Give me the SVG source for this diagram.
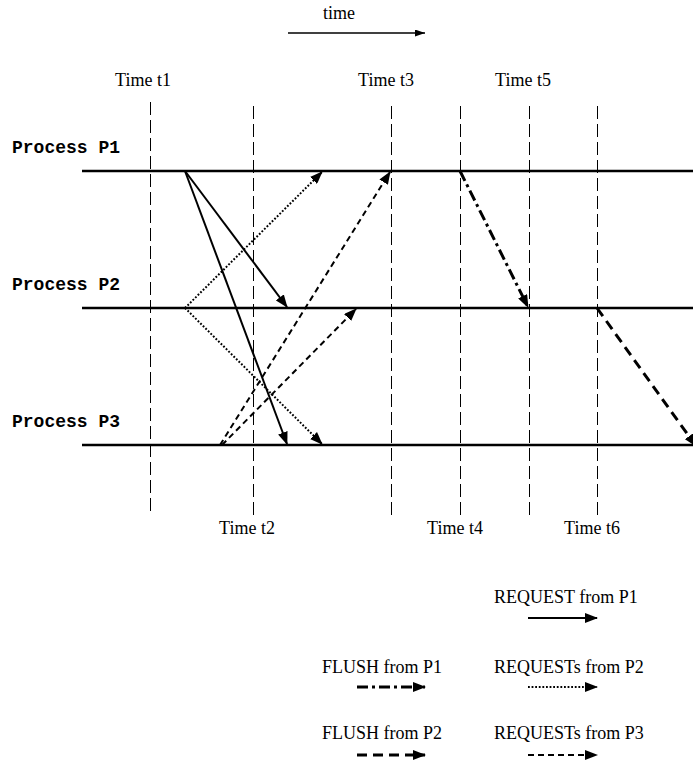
<svg xmlns="http://www.w3.org/2000/svg" width="693" height="763" viewBox="0 0 693 763">
<style>
.serif{font-family:"Liberation Serif","Times New Roman",serif;font-size:18px;fill:#000}
.mono{font-family:"Liberation Mono","Courier New",monospace;font-size:18px;font-weight:bold;fill:#000}
.tl{stroke:#000;stroke-width:2.5;fill:none}
.vd{stroke:#000;stroke-width:1;stroke-dasharray:13 5;fill:none}
.a{stroke:#000;fill:none;marker-end:url(#ah)}
.req1{stroke-width:2}
.req2{stroke-width:2;stroke-dasharray:1.8 1.8}
.req3{stroke-width:2;stroke-dasharray:6 4}
.fl1{stroke-width:3;stroke-dasharray:11 4 3 4}
.fl2{stroke-width:3;stroke-dasharray:10 6}
</style>
<defs>
<marker id="ah" markerUnits="userSpaceOnUse" markerWidth="13" markerHeight="10" refX="12" refY="5" orient="auto">
<path d="M0,0 L13,5 L0,10 z" fill="#000"/>
</marker>
<marker id="ahs" markerUnits="userSpaceOnUse" markerWidth="10" markerHeight="8" refX="10" refY="3.5" orient="auto">
<path d="M0,0 L10,3.5 L0,7 z" fill="#000"/>
</marker>
</defs>
<g id="time-axis">
<text class="serif" x="339" y="19" text-anchor="middle">time</text>
<line x1="288" y1="33" x2="425" y2="33" stroke="#000" stroke-width="1.5" marker-end="url(#ahs)"/>
</g>
<g id="time-markers">
<g id="t1"><line class="vd" x1="150.5" y1="102" x2="150.5" y2="512"/><text class="serif" x="143" y="86" text-anchor="middle">Time t1</text></g>
<g id="t2"><line class="vd" x1="253.5" y1="106" x2="253.5" y2="515"/><text class="serif" x="247" y="534" text-anchor="middle">Time t2</text></g>
<g id="t3"><line class="vd" x1="391.5" y1="106" x2="391.5" y2="515"/><text class="serif" x="386" y="86" text-anchor="middle">Time t3</text></g>
<g id="t4"><line class="vd" x1="460.5" y1="106" x2="460.5" y2="515"/><text class="serif" x="455" y="534" text-anchor="middle">Time t4</text></g>
<g id="t5"><line class="vd" x1="529.5" y1="106" x2="529.5" y2="515"/><text class="serif" x="523" y="86" text-anchor="middle">Time t5</text></g>
<g id="t6"><line class="vd" x1="597.5" y1="106" x2="597.5" y2="515"/><text class="serif" x="592" y="534" text-anchor="middle">Time t6</text></g>
</g>
<g id="P1"><text class="mono" x="12" y="153">Process P1</text><line class="tl" x1="82" y1="171" x2="693" y2="171"/></g>
<g id="P2"><text class="mono" x="12" y="290">Process P2</text><line class="tl" x1="82" y1="308" x2="693" y2="308"/></g>
<g id="P3"><text class="mono" x="12" y="427">Process P3</text><line class="tl" x1="82" y1="445" x2="693" y2="445"/></g>
<g id="connectors">
<line class="a req1" x1="185" y1="171" x2="287" y2="307"/>
<line class="a req1" x1="185" y1="171" x2="287" y2="444"/>
<line class="a req2" x1="185" y1="308" x2="322" y2="172"/>
<line class="a req2" x1="185" y1="308" x2="322" y2="444"/>
<line class="a req3" x1="220" y1="445" x2="390" y2="172"/>
<line class="a req3" x1="222" y1="445" x2="356" y2="309"/>
<line class="a fl1" x1="460" y1="171" x2="528" y2="307"/>
<line class="a fl2" x1="597" y1="308" x2="696" y2="446"/>
</g>
<g id="legend">
<g id="leg-req1"><text class="serif" x="494" y="603">REQUEST from P1</text><line class="a req1" x1="528" y1="618" x2="597" y2="618"/></g>
<g id="leg-fl1"><text class="serif" x="322" y="673">FLUSH from P1</text><line class="a fl1" x1="357" y1="687" x2="425" y2="687"/></g>
<g id="leg-req2"><text class="serif" x="494" y="673">REQUESTs from P2</text><line class="a req2" x1="528" y1="687" x2="597" y2="687"/></g>
<g id="leg-fl2"><text class="serif" x="322" y="739">FLUSH from P2</text><line class="a fl2" x1="357" y1="755" x2="425" y2="755"/></g>
<g id="leg-req3"><text class="serif" x="494" y="739">REQUESTs from P3</text><line class="a req3" x1="528" y1="755" x2="597" y2="755"/></g>
</g>
</svg>
